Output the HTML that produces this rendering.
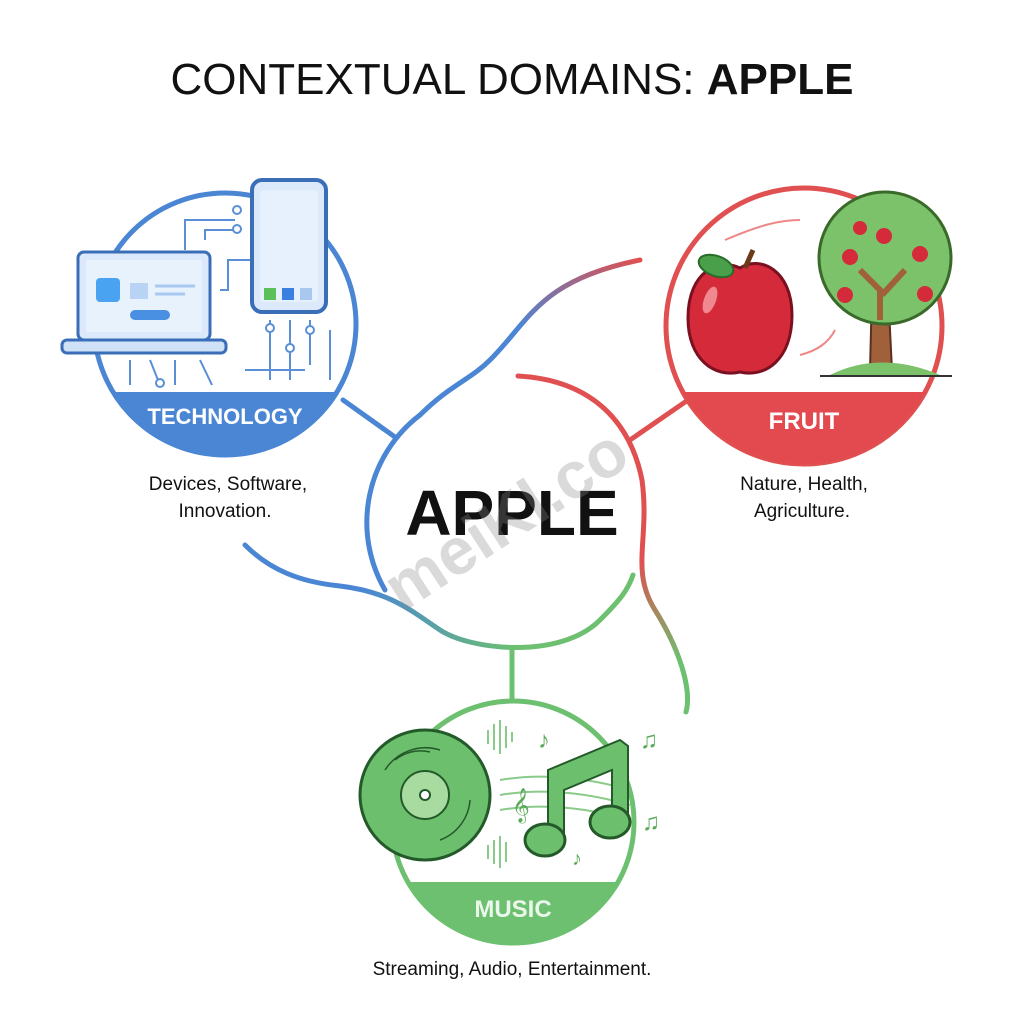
<!DOCTYPE html>
<html><head><meta charset="utf-8"><style>
html,body{margin:0;padding:0;background:#fff;}
svg{display:block;}
text{font-family:"Liberation Sans",sans-serif;}
</style></head><body>
<svg width="1024" height="1024" viewBox="0 0 1024 1024" xmlns="http://www.w3.org/2000/svg">
<defs>
<linearGradient id="bp" x1="0" y1="1" x2="1" y2="0"><stop offset="0.5" stop-color="#4a86d4"/><stop offset="1" stop-color="#e05050"/></linearGradient>
<linearGradient id="rg" x1="0" y1="0" x2="0" y2="1"><stop offset="0.55" stop-color="#e05050"/><stop offset="0.85" stop-color="#6cc070"/></linearGradient>
<linearGradient id="bg" x1="0" y1="0" x2="1" y2="0"><stop offset="0.3" stop-color="#4a86d4"/><stop offset="0.7" stop-color="#6cc070"/></linearGradient>
<clipPath id="ct"><circle cx="225" cy="324" r="131"/></clipPath>
<clipPath id="cf"><circle cx="804" cy="326" r="138"/></clipPath>
<clipPath id="cm"><circle cx="513" cy="822" r="121"/></clipPath>
</defs>

<text x="512" y="94" text-anchor="middle" font-size="44" fill="#111">CONTEXTUAL DOMAINS: <tspan font-weight="bold">APPLE</tspan></text>

<g fill="none" stroke-width="5" stroke-linecap="round">
<line x1="343" y1="400" x2="395" y2="437" stroke="#4a86d4"/>
<line x1="688" y1="400" x2="630" y2="440" stroke="#e05050"/>
<line x1="512" y1="650" x2="512" y2="698" stroke="#6cc070"/>
<path d="M385 590 A135 135 0 0 1 420 415" stroke="#4a86d4"/>
<path d="M420 415 C450 385 470 380 490 360 C530 320 540 280 640 260" stroke="url(#bp)"/>
<path d="M245 545 C270 570 300 582 340 586 C390 592 410 610 440 630 C470 650 560 660 600 620 C620 600 628 590 633 575" stroke="url(#bg)"/>
<path d="M518 376 C590 380 630 420 642 480 C650 540 630 570 655 610 C680 650 692 690 686 712" stroke="url(#rg)"/>
</g>

<!-- TECHNOLOGY -->
<circle cx="225" cy="324" r="131" fill="#fff" stroke="#4a86d4" stroke-width="5"/>
<g clip-path="url(#ct)">
<rect x="90" y="392" width="270" height="80" fill="#4a86d4"/>
<g stroke="#5a8fd6" stroke-width="2" fill="none">
<path d="M130 360 v25 M150 360 l10 25 M175 360 v25 M200 360 l12 25 M270 320 v60 M290 320 v60 M310 320 v45 M330 330 v50 M245 370 h60"/>
<path d="M185 250 v-30 h50 M205 240 v-10 h30 M220 290 h8 v-30 h22"/>
</g>
<g fill="#fff" stroke="#5a8fd6" stroke-width="2"><circle cx="237" cy="210" r="4"/><circle cx="237" cy="229" r="4"/><circle cx="270" cy="328" r="4"/><circle cx="290" cy="348" r="4"/><circle cx="310" cy="330" r="4"/><circle cx="160" cy="383" r="4"/></g>
</g>
<rect x="78" y="252" width="132" height="88" rx="6" fill="#dbe9fb" stroke="#3a6fb8" stroke-width="3"/>
<rect x="86" y="260" width="116" height="72" fill="#e8f2fd"/>
<rect x="96" y="278" width="24" height="24" rx="4" fill="#4aa3f0"/>
<rect x="130" y="283" width="18" height="16" fill="#b8d3f3"/>
<path d="M155 286 h40 M155 294 h30" stroke="#a8c8f0" stroke-width="3"/>
<rect x="130" y="310" width="40" height="10" rx="5" fill="#4a90e2"/>
<rect x="62" y="340" width="164" height="13" rx="5" fill="#cfe1f7" stroke="#3a6fb8" stroke-width="3"/>
<rect x="252" y="180" width="74" height="132" rx="10" fill="#dbe9fb" stroke="#3a6fb8" stroke-width="4"/>
<rect x="260" y="190" width="58" height="112" rx="4" fill="#e6f1fd"/>
<rect x="264" y="288" width="12" height="12" fill="#5ac05a"/><rect x="282" y="288" width="12" height="12" fill="#3a80e0"/><rect x="300" y="288" width="12" height="12" fill="#a8c8f0"/>
<text x="225" y="424" text-anchor="middle" font-size="22" font-weight="bold" fill="#fff">TECHNOLOGY</text>
<text x="228" y="490" text-anchor="middle" font-size="19" fill="#111">Devices, Software,</text>
<text x="225" y="517" text-anchor="middle" font-size="19" fill="#111">Innovation.</text>

<!-- FRUIT -->
<circle cx="804" cy="326" r="138" fill="#fff" stroke="#e05050" stroke-width="5"/>
<g clip-path="url(#cf)">
<rect x="660" y="392" width="290" height="80" fill="#e24a4f"/>
</g>
<path d="M725 240 C760 225 780 220 800 220" stroke="#e88" stroke-width="2" fill="none"/>
<path d="M800 355 C820 350 830 340 835 330" stroke="#e88" stroke-width="2" fill="none"/>
<path d="M740 268 C760 255 792 270 792 315 C792 360 765 378 740 372 C715 378 688 360 688 318 C688 270 720 258 740 268 Z" fill="#d42a3a" stroke="#7a1020" stroke-width="3"/>
<ellipse cx="710" cy="300" rx="6" ry="14" fill="#f08890" transform="rotate(20 710 300)"/>
<path d="M745 268 l8 -18" stroke="#6b3a1a" stroke-width="5"/>
<ellipse cx="716" cy="266" rx="18" ry="10" fill="#4aa04a" stroke="#2a6a2a" stroke-width="2" transform="rotate(20 716 266)"/>
<path d="M870 370 L872 290 L888 290 L892 370 Z" fill="#a0603a" stroke="#5a3020" stroke-width="2"/>
<circle cx="885" cy="258" r="66" fill="#7cc26a" stroke="#3a6a2a" stroke-width="3"/>
<path d="M880 320 L880 290 L860 270 M882 295 L905 270" stroke="#a0603a" stroke-width="6" fill="none"/>
<g fill="#d42a3a"><circle cx="884" cy="236" r="8"/><circle cx="850" cy="257" r="8"/><circle cx="920" cy="254" r="8"/><circle cx="845" cy="295" r="8"/><circle cx="925" cy="294" r="8"/><circle cx="860" cy="228" r="7"/></g>
<path d="M830 375 Q880 350 940 375 Z" fill="#7cc26a"/>
<line x1="820" y1="376" x2="952" y2="376" stroke="#333" stroke-width="2"/>
<text x="804" y="429" text-anchor="middle" font-size="24" font-weight="bold" fill="#fff">FRUIT</text>
<text x="804" y="490" text-anchor="middle" font-size="19" fill="#111">Nature, Health,</text>
<text x="802" y="517" text-anchor="middle" font-size="19" fill="#111">Agriculture.</text>

<!-- MUSIC -->
<circle cx="513" cy="822" r="121" fill="#fff" stroke="#6cc070" stroke-width="5"/>
<g clip-path="url(#cm)">
<rect x="385" y="882" width="260" height="80" fill="#6cc070"/>
<g stroke="#8acb8a" stroke-width="2" fill="none"><path d="M500 780 Q560 770 630 790 M500 795 Q560 785 630 805 M500 810 Q560 800 630 820"/></g>
</g>
<circle cx="425" cy="795" r="65" fill="#6cbf6c" stroke="#245a2a" stroke-width="3"/>
<g fill="none" stroke="#245a2a" stroke-width="1.5"><path d="M385 770 A48 48 0 0 1 440 750"/><path d="M470 800 A46 46 0 0 1 440 840"/><path d="M395 760 A40 40 0 0 1 430 752"/></g>
<circle cx="425" cy="795" r="24" fill="#a7dba0" stroke="#245a2a" stroke-width="2"/>
<circle cx="425" cy="795" r="5" fill="#fff" stroke="#245a2a" stroke-width="2"/>
<path d="M548 770 L620 740 L628 746 L628 825 L612 825 L612 770 L564 790 L564 840 L548 840 Z" fill="#6cbf6c" stroke="#245a2a" stroke-width="2"/>
<ellipse cx="545" cy="840" rx="20" ry="16" fill="#6cbf6c" stroke="#245a2a" stroke-width="3"/>
<ellipse cx="610" cy="822" rx="20" ry="16" fill="#6cbf6c" stroke="#245a2a" stroke-width="3"/>
<g stroke="#8acb8a" stroke-width="2"><path d="M488 730 v14 M494 724 v26 M500 720 v34 M506 726 v22 M512 732 v10 M488 845 v14 M494 840 v24 M500 836 v32 M506 842 v20"/></g>
<text x="538" y="748" font-size="24" fill="#5aaa5a">♪</text>
<text x="640" y="748" font-size="24" fill="#5aaa5a">♫</text>
<text x="642" y="830" font-size="24" fill="#5aaa5a">♫</text>
<text x="572" y="865" font-size="20" fill="#5aaa5a">♪</text>
<text x="512" y="815" font-size="30" fill="#5aaa5a">𝄞</text>
<text x="513" y="917" text-anchor="middle" font-size="24" font-weight="bold" fill="#eaf7ea">MUSIC</text>
<text x="512" y="975" text-anchor="middle" font-size="19" fill="#111">Streaming, Audio, Entertainment.</text>

<text x="512" y="535" text-anchor="middle" font-size="64" font-weight="bold" fill="#111">APPLE</text>
<text x="518" y="538" text-anchor="middle" font-size="66" font-weight="bold" fill="#888" opacity="0.3" transform="rotate(-33 518 538)">meiKl.co</text>
</svg>
</body></html>
